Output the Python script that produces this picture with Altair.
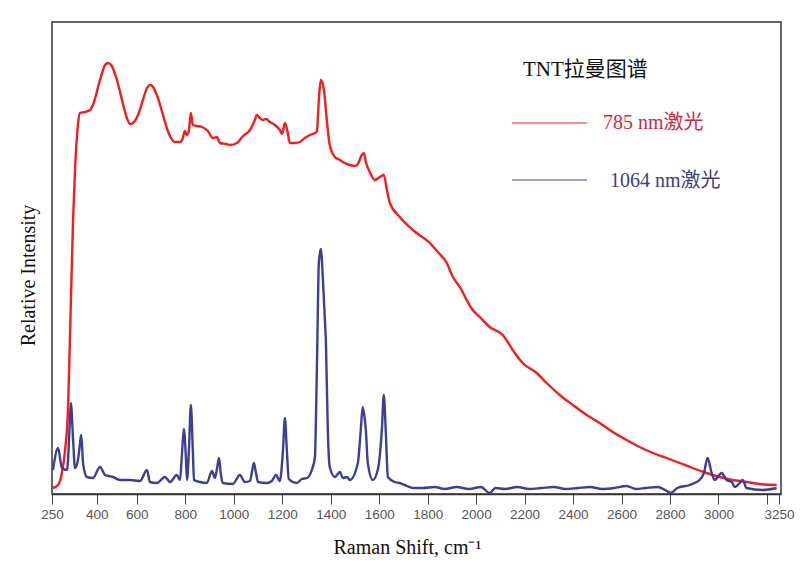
import altair as alt
import pandas as pd

# 785 nm excitation spectrum (Raman shift cm-1, relative intensity)
red_cm = [254, 275, 291, 304, 316, 328, 337, 345, 357, 365, 386, 407, 419, 448, 469, 481, 497, 518,
          539, 559, 572, 584, 605, 625, 642, 654, 667, 687, 708, 724, 741, 757, 778, 790, 798, 807,
          815, 823, 831, 848, 869, 893, 914, 930, 943, 968, 984, 1013, 1038, 1067, 1087, 1095, 1108,
          1120, 1133, 1149, 1170, 1190, 1199, 1211, 1223, 1231, 1252, 1273, 1293, 1314, 1335, 1343,
          1351, 1359, 1372, 1384, 1396, 1417, 1438, 1458, 1479, 1500, 1512, 1528, 1537, 1545, 1561,
          1582, 1603, 1619, 1632, 1644, 1685, 1739, 1809, 1842, 1879, 1904, 1933, 1961, 1986, 2015,
          2056, 2110, 2151, 2192, 2250, 2291, 2345, 2399, 2456, 2510, 2564, 2621, 2675, 2729, 2786,
          2840, 2893, 2951, 3005, 3058, 3116, 3170, 3240]
red_int = [5, 8, 20, 43, 83, 193, 273, 323, 368, 380, 381, 383, 388, 413, 428, 430, 427, 413,
           393, 375, 369, 370, 378, 393, 405, 408, 406, 395, 378, 365, 355, 351, 351, 355, 362, 358,
           363, 380, 368, 367, 366, 362, 355, 356, 350, 349, 348, 350, 357, 363, 373, 378, 375,
           373, 374, 371, 368, 363, 359, 370, 360, 350, 350, 351, 355, 358, 360, 362,
           393, 413, 403, 373, 348, 336, 333, 330, 328, 327, 329, 338, 340, 331, 321,
           313, 316, 318, 303, 290, 276, 263, 250, 241, 230, 216, 206, 193, 183, 176,
           166, 158, 143, 130, 120, 110, 98, 88, 78, 70, 61, 53, 46, 40, 35,
           30, 25, 20, 16, 13, 11, 9, 8]

# 1064 nm excitation spectrum
blue_cm = [254, 275, 291, 312, 324, 328, 337, 345, 357, 365, 370, 374, 378, 394, 419, 448, 469, 502,
           530, 572, 613, 642, 654, 683, 716, 737, 765, 778, 786, 794, 803, 807, 815, 823, 831, 836,
           860, 889, 910, 922, 930, 939, 947, 955, 996, 1025, 1046, 1067, 1075, 1083, 1091, 1100,
           1137, 1157, 1174, 1190, 1203, 1211, 1219, 1227, 1260, 1281, 1302, 1322, 1335, 1339, 1345,
           1351, 1359, 1368, 1376, 1380, 1388, 1396, 1417, 1438, 1450, 1467, 1479, 1512, 1524, 1532,
           1541, 1545, 1553, 1574, 1594, 1611, 1619, 1627, 1636, 1664, 1685, 1714, 1739, 1780, 1830,
           1870, 1920, 1970, 2020, 2056, 2080, 2120, 2170, 2220, 2270, 2320, 2370, 2420, 2470, 2520,
           2570, 2620, 2660, 2700, 2750, 2780, 2803, 2830, 2881, 2922, 2940, 2955, 2972, 2984, 3013,
           3034, 3055, 3067, 3080, 3100, 3116, 3182, 3240]
blue_int = [23, 45, 25, 23, 73, 90, 53, 25, 33, 48, 58, 48, 30, 16, 15, 26, 18, 16,
            13, 13, 12, 23, 11, 10, 16, 11, 18, 13, 38, 64, 33, 13, 43, 88, 43, 13,
            11, 10, 22, 15, 23, 35, 18, 10, 9, 18, 11, 12, 21, 30, 21, 11,
            10, 12, 18, 12, 43, 75, 43, 14, 10, 14, 15, 23, 36, 73, 153,
            230, 244, 213, 173, 153, 63, 26, 16, 21, 15, 16, 13, 30, 63, 86,
            73, 63, 30, 13, 23, 63, 98, 63, 16, 11, 10, 7, 5, 5, 6,
            4, 6, 4, 6, 0, 5, 4, 6, 4, 5, 6, 4, 5, 6, 4,
            5, 7, 4, 5, 6, 3, 0, 5, 8, 13, 20, 35, 20, 13, 20,
            13, 11, 6, 8, 13, 5, 3, 5]

series_names = ["785 nm激光", "1064 nm激光"]
series_colors = ["#f41c1c", "#3e3e94"]
legend_title = "TNT拉曼图谱"
tick_vals = [250, 435, 600, 800, 1000, 1200, 1400, 1600, 1800, 2000, 2200, 2400, 2600, 2800, 3000, 3200, 3250]

df = pd.concat([
    pd.DataFrame({"shift": red_cm, "intensity": red_int, "laser": series_names[0], "order": range(len(red_cm))}),
    pd.DataFrame({"shift": blue_cm, "intensity": blue_int, "laser": series_names[1], "order": range(len(blue_cm))}),
])

serif = "Liberation Serif, Noto Sans CJK SC"

x = alt.X("shift:Q",
          scale=alt.Scale(domain=[250, 3258], nice=False, zero=False),
          axis=alt.Axis(values=tick_vals, format="d",
                        labelExpr="datum.value == 435 ? '400' : (datum.value == 3200 ? '' : datum.label)",
                        labelFlush=False, labelOverlap=False, grid=False,
                        tickSize=10, tickColor="#444", domainColor="#333", domainWidth=1.5,
                        labelFont="Liberation Sans", labelFontSize=13.5, labelColor="#555",
                        labelPadding=3,
                        title="Raman Shift, cm⁻¹", titleFont=serif, titleFontSize=20,
                        titleFontWeight="normal", titleColor="#111",
                        titleX=355, titleY=59, titleBaseline="alphabetic"))
y = alt.Y("intensity:Q",
          scale=alt.Scale(domain=[-1, 471], nice=False, zero=False),
          axis=alt.Axis(labels=False, ticks=False, domain=False, grid=False,
                        title="Relative Intensity", titleFont=serif, titleFontSize=20,
                        titleFontWeight="normal", titleColor="#111",
                        titleX=-14, titleY=253))

lines = alt.Chart(df).mark_line(strokeWidth=2.4, interpolate="monotone").encode(
    x=x, y=y,
    color=alt.Color("laser:N", scale=alt.Scale(domain=series_names, range=series_colors), legend=None),
    order="order:Q",
)

title_txt = alt.Chart().mark_text(text=legend_title, font=serif, fontSize=21, align="left",
                                  baseline="alphabetic", color="#111").encode(
    x=alt.value(471), y=alt.value(54))
rule_red = alt.Chart().mark_rule(color=series_colors[0], strokeWidth=1).encode(
    x=alt.value(460), x2=alt.value(535), y=alt.value(101))
rule_blue = alt.Chart().mark_rule(color=series_colors[1], strokeWidth=1).encode(
    x=alt.value(460), x2=alt.value(535), y=alt.value(158))
txt_red = alt.Chart().mark_text(text=series_names[0], font=serif, fontSize=20, align="left",
                                baseline="alphabetic", color="#d4283c").encode(
    x=alt.value(551), y=alt.value(107))
txt_blue = alt.Chart().mark_text(text=series_names[1], font=serif, fontSize=20, align="left",
                                 baseline="alphabetic", color="#40407f").encode(
    x=alt.value(558), y=alt.value(165))

chart = alt.layer(lines, title_txt, rule_red, rule_blue, txt_red, txt_blue).properties(
    width=729, height=472,
    autosize=alt.AutoSizeParams(type="none"),
    padding={"left": 44, "top": 14, "right": 20, "bottom": 75},
    background="white",
).configure_view(stroke="#333", strokeWidth=1.5)

chart.save("out.html", embed_options={"renderer": "svg", "actions": False})
